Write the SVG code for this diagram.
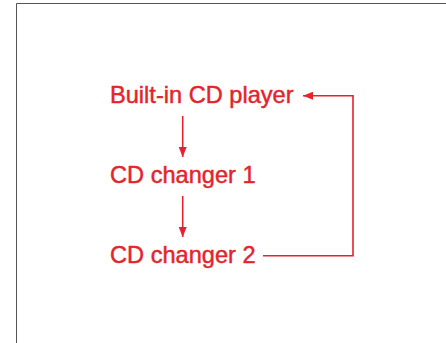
<svg xmlns="http://www.w3.org/2000/svg" width="446" height="343" viewBox="0 0 446 343">
<style>
.lbl{font-family:"Liberation Sans",Arial,Helvetica,sans-serif;font-size:23.6px;fill:#e3242b;stroke:#e3242b;stroke-width:0.45}
.con{stroke:#e3242b;stroke-width:1.6;fill:none}
</style>
<defs>
<marker id="ah" viewBox="0 0 10 8" refX="10" refY="4" markerWidth="10" markerHeight="8" markerUnits="userSpaceOnUse" orient="auto">
<path d="M0,0 L10,4 L0,8 Z" fill="#e3242b"/>
</marker>
</defs>
<rect width="446" height="343" fill="#fff"/>
<path d="M16.5,343 V3.5 H446" stroke="#555" stroke-width="1" fill="none"/>
<g id="node-builtin"><text class="lbl" x="110" y="102.5">Built-in CD player</text></g>
<g id="node-changer1"><text class="lbl" x="110" y="182.5">CD changer 1</text></g>
<g id="node-changer2"><text class="lbl" x="110" y="262.5">CD changer 2</text></g>
<g id="connectors">
<path class="con" d="M182.7,116 V157" marker-end="url(#ah)"/>
<path class="con" d="M182.7,196 V237" marker-end="url(#ah)"/>
<path class="con" d="M263,255.7 H353 V95.7 H303" marker-end="url(#ah)"/>
</g>
</svg>
